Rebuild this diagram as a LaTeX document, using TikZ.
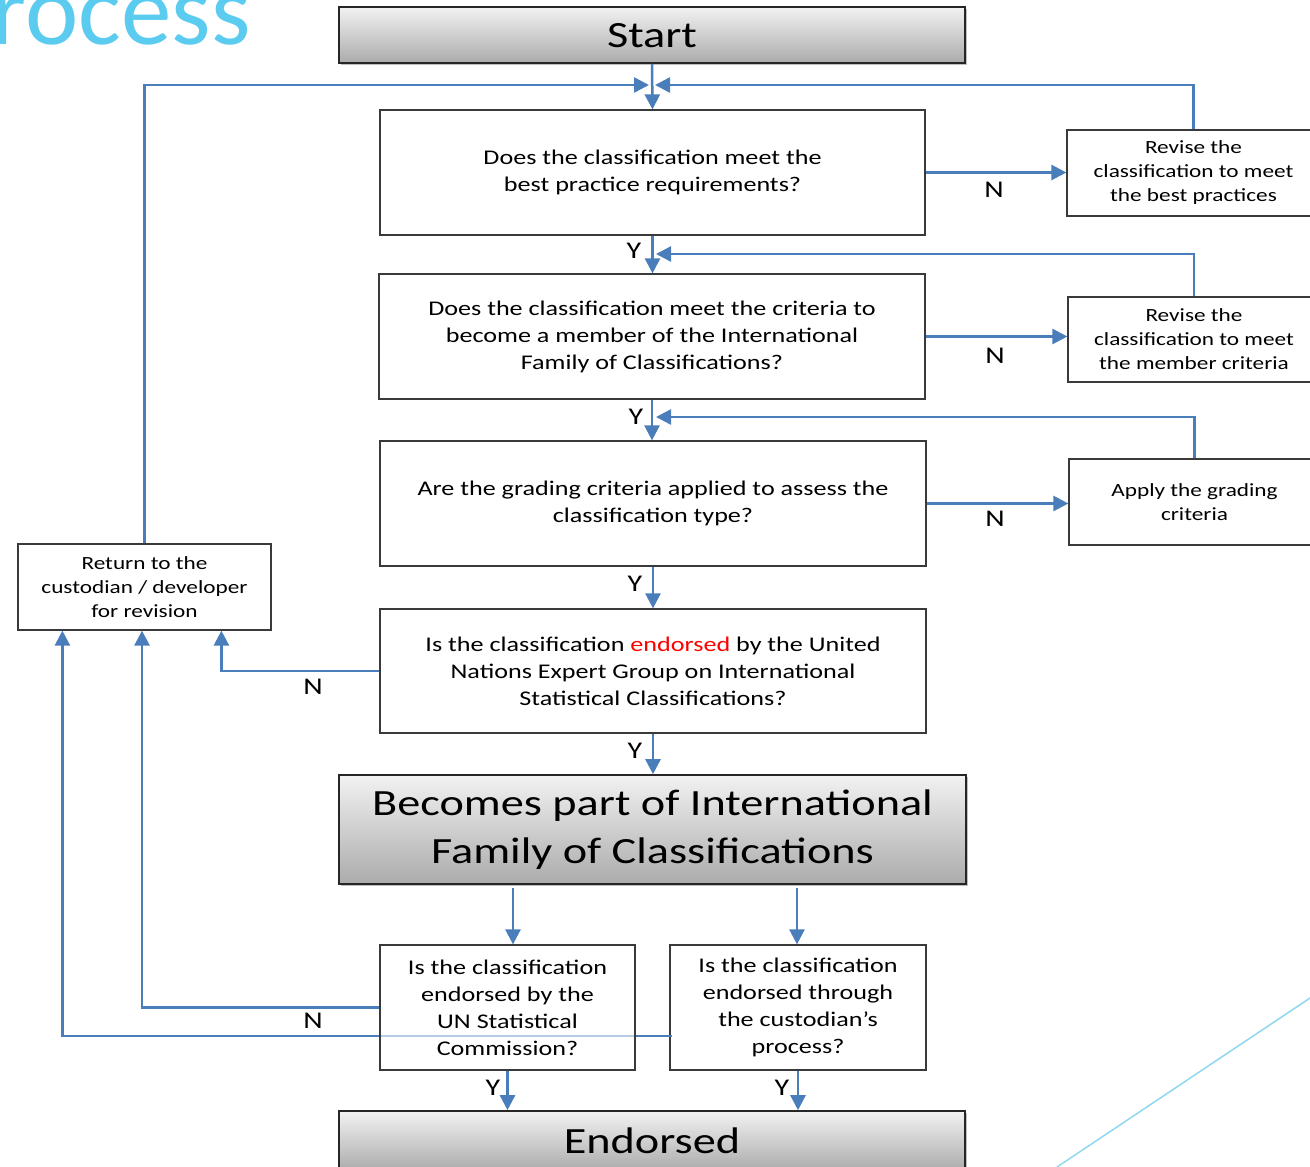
\documentclass[tikz,border=0pt]{standalone}
\usepackage{fontspec}
\setmainfont[FakeStretch=1.25]{Carlito}
\newfontfamily\titlefont{Carlito}
\usetikzlibrary{arrows.meta,shadows,calc}
\definecolor{arrblue}{HTML}{4A7EBB}
\definecolor{procblue}{HTML}{5BCBF0}
\definecolor{diagblue}{HTML}{8ED8F0}
\definecolor{boxline}{HTML}{3A3A3A}
\definecolor{gtop}{HTML}{F2F2F2}
\definecolor{gbot}{HTML}{ABABAB}
\begin{document}
\begin{tikzpicture}[x=1pt,y=-1pt,
 qbox/.style={draw=boxline, line width=1.2pt, fill=white, align=center, inner sep=0pt, font=\fontsize{20.9}{27}\selectfont},
 sbox/.style={qbox, font=\fontsize{18.6}{24}\selectfont},
 gbox/.style={draw=black!85, line width=1.6pt, top color=gtop, bottom color=gbot, align=center, inner sep=0pt, drop shadow={shadow xshift=2pt, shadow yshift=-2pt, opacity=0.5}, font=\fontsize{37}{48}\selectfont},
 arr/.style={draw=arrblue, line width=2.5pt, -{Triangle[length=15pt,width=15pt]}},
 yn/.style={font=\fontsize{24}{28}\selectfont, inner sep=0pt}]
\useasboundingbox (0,0) rectangle (1310,1167);
\clip (0,0) rectangle (1310,1167);

\node[anchor=base east, text=procblue, inner sep=0pt, font=\titlefont\fontsize{101}{101}\selectfont] (proc) at (251,45) {rocess};
\draw[diagblue, line width=1.5pt] (1310,998) -- (1057,1167);

\node[gbox, minimum width=626pt, minimum height=56pt, text depth=0pt, text height=24pt] (start) at (652,35) {Start};
\node[qbox, minimum width=545pt, minimum height=125pt] (q1) at (652.5,172.5) {Does the classification meet the\\best practice requirements?};
\node[sbox, minimum width=253pt, minimum height=86pt] (rev1) at (1193.5,173) {Revise the\\classification to meet\\the best practices};
\node[qbox, minimum width=546pt, minimum height=125pt] (q2) at (652,336.5) {Does the classification meet the criteria to\\become a member of the International\\Family of Classifications?};
\node[sbox, minimum width=252pt, minimum height=85pt] (rev2) at (1194,339.5) {Revise the\\classification to meet\\the member criteria};
\node[qbox, minimum width=546pt, minimum height=125pt] (q3) at (653,503.5) {Are the grading criteria applied to assess the\\classification type?};
\node[sbox, minimum width=251pt, minimum height=86pt] (apply) at (1194.5,502) {Apply the grading\\criteria};
\node[qbox, minimum width=546pt, minimum height=124pt] (q4) at (653,671) {Is the classification \textcolor{red}{endorsed} by the United\\Nations Expert Group on International\\Statistical Classifications?};
\node[sbox, minimum width=253pt, minimum height=86pt] (ret) at (144.5,587) {Return to the\\custodian / developer\\for revision};
\node[gbox, minimum width=627pt, minimum height=109pt] (becomes) at (652.5,829.5) {Becomes part of International\\Family of Classifications};
\node[qbox, minimum width=256pt, minimum height=125pt] (q6) at (798,1007.5) {Is the classification\\endorsed through\\the custodian’s\\process?};
\node[gbox, minimum width=626pt, minimum height=60pt] (end) at (652,1141) {Endorsed};

% top loop
\coordinate (j1) at (652,85);
\draw[arr] (start.south) -- (q1.north);
\draw[arr] (ret.north) |- ($(j1)+(-3,0)$);
\draw[arr] (rev1.north) |- ($(j1)+(3,0)$);
\draw[arr] (q1.east) -- (q1.east -| rev1.west);
\node[yn] (n1) at (994,190) {N};

\coordinate (j2) at (652,254);
\draw[arr] (q1.south) -- (q1.south |- q2.north);
\node[yn] (y1) at (634,251) {Y};
\draw[arr] (rev2.north) |- ($(j2)+(4,0)$);
\draw[arr] (q2.east) -- (q2.east -| rev2.west);
\node[yn] (n2) at (995,356) {N};

\coordinate (j3) at (652,417);
\draw[arr] (q2.south) -- (q2.south |- q3.north);
\node[yn] (y2) at (636,417) {Y};
\draw[arr] (apply.north) |- ($(j3)+(4,0)$);
\draw[arr] (q3.east) -- (q3.east -| apply.west);
\node[yn] (n3) at (995,519) {N};

\draw[arr] (q3.south) -- (q3.south |- q4.north);
\node[yn] (y3) at (635,584) {Y};
\draw[arr] (q4.west) -| ($(ret.south west)+(204,0)$);
\node[yn] (n4) at (313,687) {N};
\draw[arr] (q4.south) -- (q4.south |- becomes.north);
\node[yn] (y4) at (635,751) {Y};

% bottom
\coordinate (b5) at (513,888);
\coordinate (b6) at (797,888);
\draw[arr] (b6) -- (b6 |- q6.north);
\coordinate (c6) at ($(q6.west)+(3,28.5)$);
\draw[arr] (c6) -| ($(ret.south west)+(45,0)$);
\node[qbox, fill opacity=0.6, text opacity=1, draw opacity=1, minimum width=255pt, minimum height=125pt] (q5) at (507.5,1007.5) {Is the classification\\endorsed by the\\UN Statistical\\Commission?};
\draw[arr] (b5) -- (b5 |- q5.north);
\draw[arr] (q5.west) -| ($(ret.south)+(-2.5,0)$);
\node[yn] (n5) at (313,1021) {N};
\draw[arr] (q5.south) -- (q5.south |- end.north);
\node[yn] (y5) at (493,1088) {Y};
\draw[arr] (q6.south) -- (q6.south |- end.north);
\node[yn] (y6) at (782,1088) {Y};
\end{tikzpicture}
\end{document}
